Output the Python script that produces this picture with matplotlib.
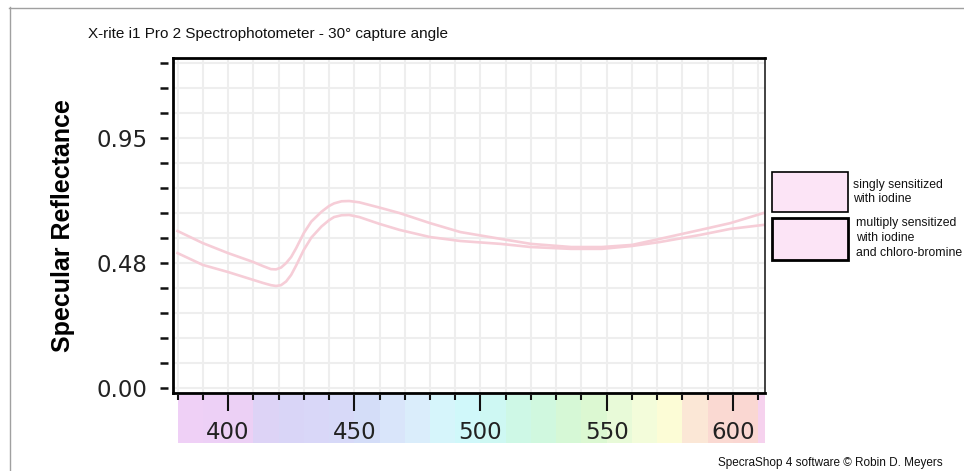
import matplotlib
matplotlib.use("Agg")
import matplotlib.pyplot as plt
from matplotlib.patches import Rectangle
from matplotlib.lines import Line2D

# ---------------- data ----------------
wavelength = [380, 390, 400, 410, 414, 417, 419, 421, 423, 425, 427, 430, 433,
              437, 440, 442, 445, 448, 452, 460, 468, 480, 492, 508, 520, 536,
              548, 560, 571, 587, 599, 612]
singly = [0.597, 0.551, 0.513, 0.479, 0.463, 0.452, 0.451, 0.458, 0.475, 0.498,
          0.532, 0.589, 0.633, 0.670, 0.692, 0.702, 0.710, 0.711, 0.706, 0.686,
          0.665, 0.627, 0.593, 0.567, 0.548, 0.536, 0.536, 0.544, 0.567, 0.601,
          0.627, 0.665]
multiply = [0.513, 0.468, 0.441, 0.411, 0.399, 0.391, 0.388, 0.391, 0.405, 0.430,
            0.466, 0.525, 0.572, 0.614, 0.638, 0.650, 0.657, 0.658, 0.650, 0.624,
            0.601, 0.574, 0.559, 0.548, 0.536, 0.529, 0.529, 0.540, 0.555, 0.582,
            0.605, 0.620]
series_labels = ["singly sensitized\nwith iodine",
                 "multiply sensitized\nwith iodine\nand chloro-bromine"]

ytick_pos = [0.0, 0.475, 0.95]
ytick_labels = ["0.00", "0.48", "0.95"]
ytick_minor = [k * 0.095 for k in range(14)]
xtick_major = [400, 450, 500, 550, 600]
xtick_minor = list(range(380, 620, 10))

band_start = list(range(380, 620, 10))
band_colors = ["#efd0f6", "#edd0f6", "#ecd0f5", "#ddd3f6", "#d9d5f7", "#d9d7f8",
               "#d7d9f8", "#d4ddf8", "#d9e5fa", "#daedfb", "#d6f5fb", "#d0f8fa",
               "#cef8f3", "#cef8e6", "#d0f8df", "#d6f8d6", "#dcf8d2", "#e8fad8",
               "#f3fcda", "#fcfcd6", "#fbe7d6", "#fad9d2", "#fad7d2", "#f6d2ee"]

title = "X-rite i1 Pro 2 Spectrophotometer - 30° capture angle"
ylabel = "Specular Reflectance"
footer = "SpecraShop 4 software © Robin D. Meyers"

# ---------------- layout ----------------
W, H = 964, 471
fig = plt.figure(figsize=(W / 100, H / 100), dpi=100)
fig.patch.set_facecolor("white")

def fx(px):
    return px / W

def fy(py):
    return 1 - py / H

XLIM = (378.2, 612.7)
YLIM = (-0.019, 1.2548)
L, R, T, B = 173, 765, 58, 393

# spectrum band axes (behind)
axb = fig.add_axes([fx(L), fy(443), fx(R - L), (443 - 395) / H], zorder=1)
axb.bar(band_start, [1] * len(band_start), width=10, align="edge",
        color=band_colors, edgecolor="none")
axb.set_xlim(*XLIM)
axb.set_ylim(0, 1)
for s in axb.spines.values():
    s.set_visible(False)
axb.set_yticks([])
axb.set_xticks(xtick_major)
axb.set_xticks(xtick_minor, minor=True)
axb.set_xticklabels([str(v) for v in xtick_major])
axb.tick_params(axis="x", which="both", direction="in", bottom=False, top=True,
                labelbottom=True, labeltop=False, color="#111111", width=1.5)
axb.tick_params(axis="x", which="major", length=11.5, pad=-16,
                labelsize=16.5, labelcolor="#222222")
axb.tick_params(axis="x", which="minor", length=3.8)

# main axes
ax = fig.add_axes([fx(L), fy(B), fx(R - L), (B - T) / H], zorder=2)
ax.set_xlim(*XLIM)
ax.set_ylim(*YLIM)
ax.set_xticks(xtick_minor)
ax.set_yticks(ytick_minor)
ax.tick_params(which="both", length=0, labelbottom=False, labelleft=False)
ax.grid(True, color="#eeeeee", linewidth=1.5)
ax.set_axisbelow(True)
for side in ["left", "top", "bottom"]:
    ax.spines[side].set_linewidth(2.0)
    ax.spines[side].set_color("black")
ax.spines["right"].set_linewidth(1.2)
ax.spines["right"].set_color("#222222")

line_color = "#f6cdd7"
ax.plot(wavelength, singly, color=line_color, lw=1.9, solid_joinstyle="round")
ax.plot(wavelength, multiply, color=line_color, lw=1.9, solid_joinstyle="round")

# y tick axes (zero width, left of gap)
axy = fig.add_axes([fx(168), fy(B), 0.0001, (B - T) / H], zorder=3)
axy.set_ylim(*YLIM)
axy.patch.set_visible(False)
for s in axy.spines.values():
    s.set_visible(False)
axy.set_xticks([])
axy.set_yticks(ytick_pos)
axy.set_yticklabels(ytick_labels)
axy.set_yticks(ytick_minor, minor=True)
axy.tick_params(axis="y", which="both", direction="in", left=False, right=True,
                labelleft=True, length=5.5, width=1.8, color="#111111")
axy.tick_params(axis="y", which="major", pad=14.5, labelsize=16.5,
                labelcolor="#222222")

# texts
fig.text(fx(88), fy(34), title, ha="left", va="center", fontsize=11,
         family="Liberation Sans", color="#111111")
fig.text(fx(63), fy(226), ylabel, rotation=90, ha="center", va="center",
         fontsize=18, fontweight="bold", family="Liberation Sans", color="black")
fig.text(fx(943), fy(463), footer, ha="right", va="center", fontsize=8.5,
         family="Liberation Sans", color="#111111")

# legend boxes
fig.patches.append(Rectangle((fx(772), fy(212)), fx(76), (212 - 172) / H,
                             transform=fig.transFigure, facecolor="#fce4f6",
                             edgecolor="black", linewidth=1.2))
fig.patches.append(Rectangle((fx(772), fy(260)), fx(76), (260 - 218) / H,
                             transform=fig.transFigure, facecolor="#fce4f6",
                             edgecolor="black", linewidth=2.0))
fig.text(fx(853), fy(192), series_labels[0], ha="left", va="center",
         fontsize=8.8, linespacing=1.3, family="Liberation Sans", color="#111111")
fig.text(fx(856), fy(238), series_labels[1], ha="left", va="center",
         fontsize=8.8, linespacing=1.3, family="Liberation Sans", color="#111111")

# outer frame (left and top)
fig.lines.append(Line2D([fx(9.5), fx(9.5)], [fy(7), 0], transform=fig.transFigure,
                        color="#a0a0a0", lw=1))
fig.lines.append(Line2D([fx(9), 1], [fy(7.5), fy(7.5)], transform=fig.transFigure,
                        color="#a0a0a0", lw=1))

fig.savefig("out.png", dpi=100, facecolor="white")
